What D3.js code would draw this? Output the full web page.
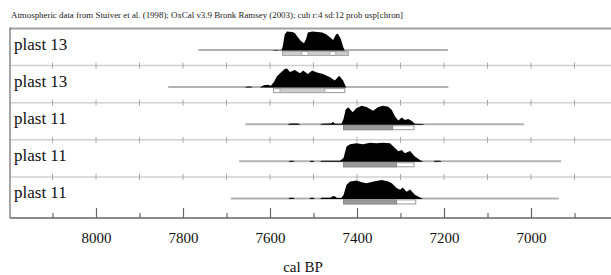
<!DOCTYPE html>
<html><head><meta charset="utf-8">
<script src="https://cdn.jsdelivr.net/npm/d3@7/dist/d3.min.js"></script>
<style>html,body{margin:0;padding:0;background:#fff;}svg{display:block;}svg text{font-family:'Liberation Serif','DejaVu Serif',serif;}</style>
</head><body>
<script>
const title = "Atmospheric data from Stuiver et al. (1998); OxCal v3.9 Bronk Ramsey (2003); cub r:4 sd:12 prob usp[chron]";
const labels = ["plast 13", "plast 13", "plast 11", "plast 11", "plast 11"];
const majorTicks = [8000, 7800, 7600, 7400, 7200, 7000];
const minorTicks = [8100, 7900, 7700, 7500, 7300, 7100, 6900];
const allTicks = [8100, 8000, 7900, 7800, 7700, 7600, 7500, 7400, 7300, 7200, 7100, 7000, 6900];
const xLabel = "cal BP";
const lineRanges = [[7765, 7191], [7834, 7190], [7657, 7016], [7671, 6931], [7690, 6936]];
const dist1 = [[7595,0],[7590,0.03],[7582,0.03],[7578,0],[7573,0.02],[7570,0.3],[7566,0.85],[7561,1.0],[7549,0.98],[7543,0.92],[7536,0.7],[7529,0.5],[7522,0.38],[7517,0.6],[7513,0.95],[7503,1.0],[7490,0.98],[7480,0.95],[7471,0.85],[7462,0.7],[7455,0.55],[7448,0.85],[7444,0.88],[7437,0.6],[7432,0.2],[7428,0]];
const dist2 = [[7658,0],[7653,0.06],[7645,0.06],[7640,0],[7623,0],[7618,0.08],[7614,0.12],[7605,0.15],[7598,0.1],[7591,0.3],[7584,0.6],[7575,0.8],[7566,0.98],[7561,1.0],[7554,0.82],[7543,0.93],[7531,0.76],[7524,0.9],[7513,0.72],[7503,0.9],[7492,0.8],[7478,0.72],[7462,0.55],[7451,0.37],[7441,0.62],[7432,0.38],[7425,0]];
const dist3 = [[7560,0],[7554,0.06],[7535,0.06],[7530,0],[7485,0],[7481,0.05],[7465,0.06],[7458,0.08],[7456,0.15],[7450,0.05],[7436,0.05],[7431,0.3],[7426,0.8],[7420,0.92],[7410,0.66],[7401,0.88],[7389,1.0],[7378,0.93],[7363,0.74],[7351,0.93],[7340,1.0],[7328,0.95],[7320,0.78],[7313,0.45],[7305,0.22],[7297,0.38],[7290,0.25],[7282,0.3],[7274,0.2],[7267,0.05],[7250,0.04],[7244,0]];
const dist4 = [[7558,0],[7554,0.06],[7547,0.06],[7543,0],[7510,0],[7506,0.06],[7501,0.06],[7497,0],[7485,0],[7481,0.06],[7439,0.06],[7431,0.2],[7424,0.8],[7416,0.93],[7401,0.97],[7386,0.93],[7370,1.0],[7355,0.97],[7340,1.0],[7324,0.97],[7317,0.82],[7305,0.55],[7297,0.62],[7290,0.45],[7278,0.57],[7267,0.28],[7255,0.1],[7248,0],[7225,0],[7221,0.06],[7209,0.06],[7205,0]];
const dist5 = [[7558,0],[7554,0.06],[7547,0.06],[7543,0],[7510,0],[7506,0.06],[7501,0.06],[7497,0],[7485,0],[7481,0.06],[7460,0.06],[7457,0.14],[7451,0.14],[7446,0.05],[7436,0.05],[7431,0.2],[7424,0.74],[7416,0.92],[7401,0.97],[7389,0.88],[7378,0.83],[7362,0.92],[7343,1.0],[7328,0.92],[7320,0.82],[7309,0.57],[7301,0.48],[7295,0.6],[7286,0.38],[7278,0.5],[7267,0.22],[7255,0.08],[7248,0]];
const dists = [dist1, dist2, dist3, dist4, dist5];
const range68 = [
  [[7571,7527],[7512,7462],[7449,7420]],
  [[7577,7474]],
  [[7431,7318]],
  [[7431,7309]],
  [[7431,7309]]
];
const range95 = [[[7571,7420]], [[7592,7428]], [[7431,7269]], [[7431,7269]], [[7431,7265]]];

const W = 611, H = 275;
const svg = d3.select("body").append("svg").attr("width", W).attr("height", H);
const x = d3.scaleLinear().domain([8200, 6800]).range([9, 618]);
const rowTop0 = 28.5, rowH = 37.1, baseOff = 21.5, peakH = 19;
const axisY = 218;
const serif = "'Liberation Serif','DejaVu Serif',serif";
const row = d3.scaleBand().domain(d3.range(labels.length)).range([rowTop0, rowTop0 + rowH * labels.length]).padding(0);

// separators
for (let i = 1; i < labels.length; i++) {
  const y = row(i);
  svg.append("line").attr("x1", 10).attr("x2", W).attr("y1", y).attr("y2", y)
    .attr("stroke", "#d0d0d0").attr("stroke-width", 1.5);
  svg.selectAll(null).data(allTicks).enter().append("line")
    .attr("x1", d => x(d)).attr("x2", d => x(d)).attr("y1", y - 3).attr("y2", y + 3)
    .attr("stroke", "#a8a8a8").attr("stroke-width", 1);
}

labels.forEach((lab, i) => {
  const base = row(i) + baseOff;
  svg.append("line").attr("x1", x(lineRanges[i][0])).attr("x2", x(lineRanges[i][1]))
    .attr("y1", base).attr("y2", base).attr("stroke", "#b2b2b2").attr("stroke-width", 2);
  const area = d3.area().x(d => x(d[0])).y0(base + 0.5).y1(d => base + 0.5 - d[1] * peakH);
  svg.append("path").datum(dists[i]).attr("d", area).attr("fill", "#000");
  range95[i].forEach(r => {
    svg.append("rect").attr("x", x(r[0])).attr("width", x(r[1]) - x(r[0]))
      .attr("y", base + 1.5).attr("height", 4).attr("fill", "#fff")
      .attr("stroke", "#999").attr("stroke-width", 1);
  });
  range68[i].forEach(r => {
    svg.append("rect").attr("x", x(r[0])).attr("width", x(r[1]) - x(r[0]))
      .attr("y", base + 1.5).attr("height", 4).attr("fill", i < 2 ? "#cdcdcd" : "#9a9a9a")
      .attr("stroke", i < 2 ? "#aaa" : "#8a8a8a").attr("stroke-width", 1);
  });
  svg.append("text").attr("x", 14).attr("y", row(i) + 21).text(lab)
    .style("font-family", serif).style("font-size", "17px").attr("fill", "#111");
});

// axis
const gMaj = svg.append("g").attr("transform", `translate(0,${axisY})`)
  .call(d3.axisBottom(x).tickValues(majorTicks).tickSize(-10).tickPadding(14).tickFormat(d3.format("d")));
const gMin = svg.append("g").attr("transform", `translate(0,${axisY})`)
  .call(d3.axisBottom(x).tickValues(minorTicks).tickSize(-5).tickFormat(""));
[gMaj, gMin].forEach(g => {
  g.attr("font-family", serif);
  g.select(".domain").remove();
  g.selectAll(".tick line").attr("stroke", "#666").attr("stroke-width", 1.2);
});
gMaj.selectAll(".tick text").style("font-family", serif).style("font-size", "15px").attr("fill", "#111");
svg.append("line").attr("x1", 10).attr("x2", W).attr("y1", axisY).attr("y2", axisY)
  .attr("stroke", "#666").attr("stroke-width", 1.3);

// frame
svg.append("line").attr("x1", 10).attr("x2", W).attr("y1", rowTop0).attr("y2", rowTop0)
  .attr("stroke", "#a0a0a0").attr("stroke-width", 2.2);
svg.append("line").attr("x1", 10).attr("x2", 10).attr("y1", rowTop0 - 1).attr("y2", axisY)
  .attr("stroke", "#777").attr("stroke-width", 1.3);

svg.append("text").attr("x", 11).attr("y", 18).text(title)
  .style("font-family", serif).style("font-size", "8px").attr("fill", "#222")
  .attr("textLength", 392).attr("lengthAdjust", "spacingAndGlyphs");
svg.append("text").attr("x", 303).attr("y", 272).attr("text-anchor", "middle").text(xLabel)
  .style("font-family", serif).style("font-size", "15px").attr("fill", "#111");
</script>
</body></html>
